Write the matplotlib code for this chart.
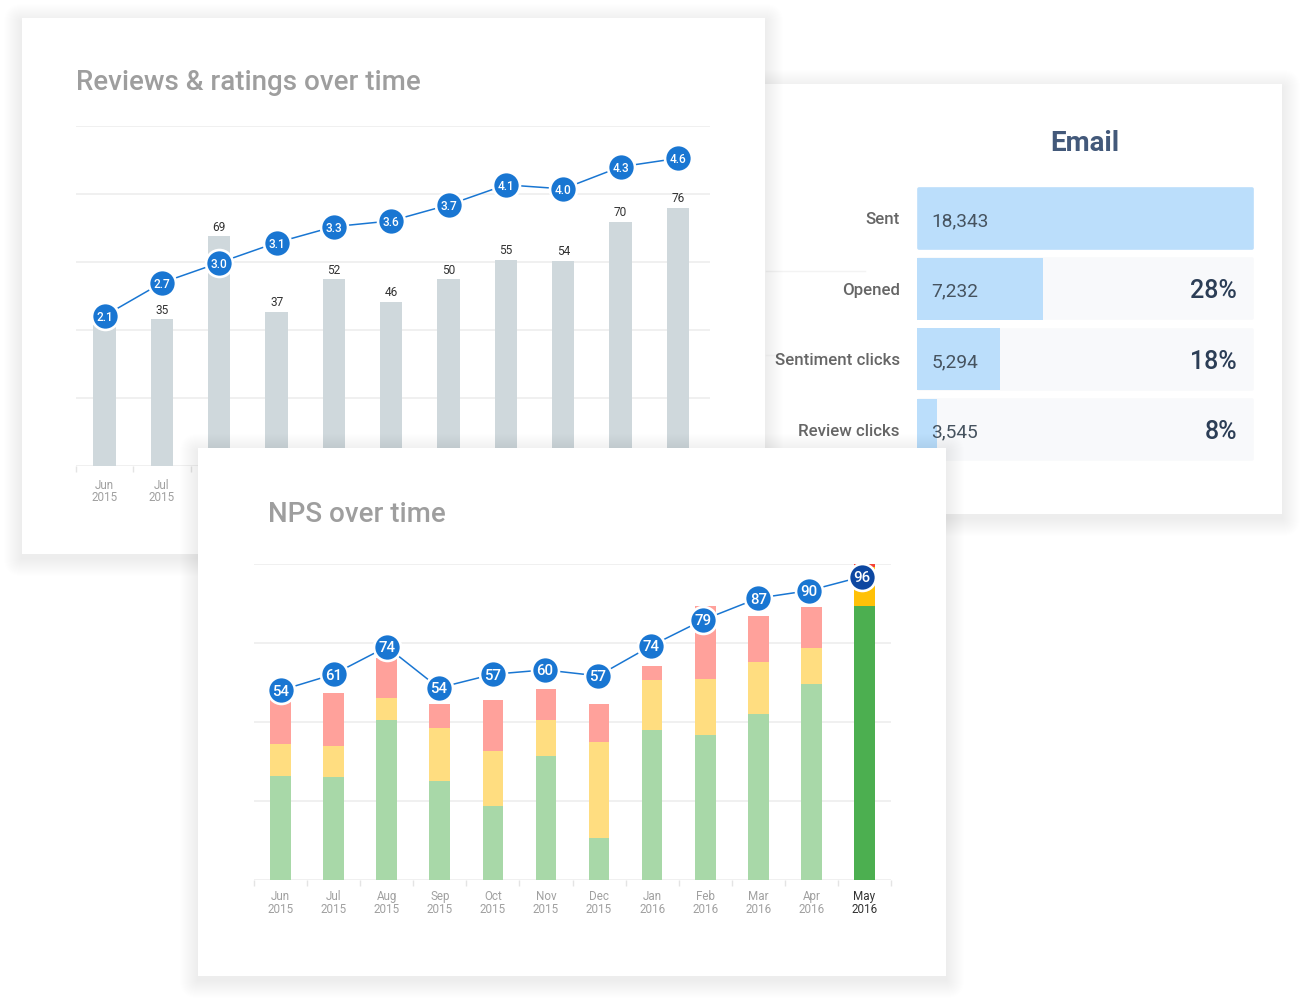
"""Three overlapping dashboard cards: reviews, email funnel, NPS."""

import matplotlib
matplotlib.use("Agg")
import matplotlib.pyplot as plt
from matplotlib.patches import FancyBboxPatch, Rectangle

W, H = 1306, 1002

# ============================================================
# Data
# ============================================================

# only the first two month labels of this chart are visible, the rest sit under the NPS card
review_months = ["Jun\n2015", "Jul\n2015", "", "", "", "", "", "", "", "", ""]
review_bars = [41.5, 43.2, 67.6, 45.4, 55.0, 48.3, 55.0, 60.7, 60.4, 71.9, 75.9]
review_labels = ["", "35", "69", "37", "52", "46", "50", "55", "54", "70", "76"]
rating_line = [44.2, 53.9, 59.8, 65.7, 70.4, 72.1, 76.8, 82.7, 81.5, 88.0, 90.5]
rating_labels = ["2.1", "2.7", "3.0", "3.1", "3.3", "3.6", "3.7", "4.1", "4.0", "4.3", "4.6"]

email_rows = ["Sent", "Opened", "Sentiment clicks", "Review clicks"]
email_fill = [100.0, 37.3, 24.5, 5.8]
email_counts = ["18,343", "7,232", "5,294", "3,545"]
email_rates = ["", "28%", "18%", "8%"]

nps_months = ["Jun\n2015", "Jul\n2015", "Aug\n2015", "Sep\n2015", "Oct\n2015", "Nov\n2015",
              "Dec\n2015", "Jan\n2016", "Feb\n2016", "Mar\n2016", "Apr\n2016", "May\n2016"]
nps_green = [32.9, 32.6, 50.6, 31.3, 23.4, 39.3, 13.4, 47.5, 45.8, 52.6, 62.0, 86.7]
nps_yellow = [10.0, 9.8, 7.0, 16.8, 17.3, 11.3, 30.4, 15.8, 17.7, 16.5, 11.5, 12.3]
nps_red = [14.0, 16.8, 12.7, 7.7, 16.2, 10.0, 11.9, 4.4, 23.2, 14.5, 13.0, 0.95]
nps_line = [60.0, 65.1, 73.8, 60.8, 65.1, 66.5, 64.6, 74.1, 82.3, 89.2, 91.6, 96.0]
nps_labels = ["54", "61", "74", "54", "57", "60", "57", "74", "79", "87", "90", "96"]

# ============================================================
# Helpers
# ============================================================

plt.rcParams["font.family"] = ["Roboto", "DejaVu Sans"]

GRID = "#eeeeee"
BLUE = "#1976d2"
PX = 0.72  # points per pixel at dpi 100

fig = plt.figure(figsize=(W / 100, H / 100), dpi=100, facecolor="white")


def px_axes(x0, y0, x1, y1, zorder):
    """Axes placed by pixel box, y measured from the top of the image."""
    ax = fig.add_axes([x0 / W, 1 - y1 / H, (x1 - x0) / W, (y1 - y0) / H], zorder=zorder)
    ax.patch.set_alpha(0)
    for s in ax.spines.values():
        s.set_visible(False)
    return ax


def card(x0, y0, x1, y1, zorder):
    """White card with a soft shadow, in a full-figure pixel axes."""
    ax = px_axes(0, 0, W, H, zorder)
    ax.set_xlim(0, W)
    ax.set_ylim(H, 0)
    ax.axis("off")
    for i in range(18, 0, -1):
        ax.add_patch(FancyBboxPatch((x0 - i, y0 - i + 4), x1 - x0 + 2 * i, y1 - y0 + 2 * i,
                                    boxstyle="round,pad=0,rounding_size=%d" % i,
                                    fc="black", ec="none", alpha=0.0032, clip_on=False))
    ax.add_patch(Rectangle((x0, y0), x1 - x0, y1 - y0, fc="white", ec="none"))
    return ax


def style_time_axis(ax, labels, pad, highlight=None):
    n = len(labels)
    ax.set_xticks(range(n))
    ax.set_xticklabels(labels, fontsize=8.4, color="#a0a0a0", linespacing=0.98)
    ax.tick_params(axis="x", which="major", length=0, pad=pad)
    ax.set_xticks([i - 0.5 for i in range(n + 1)], minor=True)
    ax.tick_params(axis="x", which="minor", length=4.2, width=1, color="#e4e4e4")
    ax.set_yticks([0, 20, 40, 60, 80, 100])
    ax.tick_params(axis="y", length=0, labelleft=False)
    ax.grid(True, axis="y", color=GRID, lw=1.2)
    ax.set_axisbelow(True)
    if highlight is not None:
        ax.get_xticklabels()[highlight].set_color("#333333")


def bubbles(ax, xs, ys, labels, size, colors=None):
    ax.plot(xs, ys, color=BLUE, lw=1.1, zorder=5, clip_on=False)
    for i, (x, y, t) in enumerate(zip(xs, ys, labels)):
        c = colors[i] if colors else BLUE
        ax.plot([x], [y], "o", ms=19.4, mfc=c, mec="white", mew=1.9, zorder=6, clip_on=False)
        ax.text(x, y, t, color="white", fontsize=size, fontweight="medium",
                ha="center", va="center_baseline", zorder=7)


# ============================================================
# Email card (back layer)
# ============================================================

bg = card(765, 84, 1282, 514, 1)
bg.plot([766, 865], [270.5, 270.5], color="#f3f3f3", lw=1)
bg.plot([766, 840], [355, 355], color="#f8f8f8", lw=1)
bg.text(1085, 140, "Email", fontsize=20, fontweight="bold", color="#43597a",
        ha="center", va="center_baseline")

ax_e = px_axes(917, 183, 1254, 465, 2)
ax_e.set_xlim(0, 100)
ax_e.set_ylim(3.5, -0.5)
ax_e.set_xticks([])
ax_e.set_yticks([])
rows = range(len(email_rows))
# thick round-joined edges give the small corner radius of the tracks
ax_e.barh(rows, [99] * 4, left=0.5, height=0.835, color="#f8f9fb", edgecolor="#f8f9fb",
          linewidth=2.6, joinstyle="round")
ax_e.barh(rows[0], email_fill[0] - 1, left=0.5, height=0.835, color="#bbdefb", edgecolor="#bbdefb",
          linewidth=2.6, joinstyle="round")
ax_e.barh(rows[1:], email_fill[1:], height=0.885, color="#bbdefb")
for i in rows:
    ax_e.annotate(email_rows[i], (0, i), xytext=(-17 * PX, 0), textcoords="offset points",
                  ha="right", va="center_baseline", fontsize=12.2, fontweight="medium", color="#666666")
    ax_e.annotate(email_counts[i], (0, i), xytext=(14.5 * PX, -0.8 * PX), textcoords="offset points",
                  ha="left", va="center_baseline", fontsize=13.8, color="#46535f")
    ax_e.annotate(email_rates[i], (100, i), xytext=(-17 * PX, 0), textcoords="offset points",
                  ha="right", va="center_baseline", fontsize=18, fontweight="medium", color="#2c3e56")

# ============================================================
# Reviews card
# ============================================================

c1 = card(22, 18, 765, 554, 3)
c1.text(76, 79, "Reviews & ratings over time", fontsize=20, fontweight="medium", color="#9e9e9e",
        ha="left", va="center_baseline")

ax_r = px_axes(76, 126, 710, 466, 4)
ax_r.set_xlim(-0.5, 10.56)
ax_r.set_ylim(0, 100)
xs_r = list(range(len(review_months)))
ax_r.bar(xs_r, review_bars, width=0.39, color="#cfd8dc", zorder=3)
style_time_axis(ax_r, review_months, 9)
for x, v, t in zip(xs_r, review_bars, review_labels):
    ax_r.annotate(t, (x, v), xytext=(0, 10.5 * PX), textcoords="offset points", ha="center",
                  va="center_baseline", fontsize=8.6, color="#333333", zorder=4)
bubbles(ax_r, xs_r, rating_line, rating_labels, 8.6)

# ============================================================
# NPS card (front layer)
# ============================================================

c3 = card(198, 448, 946, 976, 5)
c3.text(268, 511, "NPS over time", fontsize=20, fontweight="medium", color="#9e9e9e",
        ha="left", va="center_baseline")

ax_n = px_axes(254, 564, 891, 880, 6)
ax_n.set_xlim(-0.5, 11.5)
ax_n.set_ylim(0, 100)
xs_n = list(range(len(nps_months)))
last = len(nps_months) - 1
green = ["#a8d8a8"] * last + ["#4caf50"]
yellow = ["#ffdd80"] * last + ["#ffc107"]
red = ["#ffa19b"] * last + ["#f44336"]
yellow_base = nps_green
red_base = [a + b for a, b in zip(nps_green, nps_yellow)]
ax_n.bar(xs_n, nps_green, width=0.39, color=green, zorder=3)
ax_n.bar(xs_n, nps_yellow, width=0.39, bottom=yellow_base, color=yellow, zorder=3)
ax_n.bar(xs_n, nps_red, width=0.39, bottom=red_base, color=red, zorder=3)
style_time_axis(ax_n, nps_months, 7, highlight=last)
ax_n.set_yticks([0, 25, 50, 75, 100])
# bubbles drift slightly left of the bar centres towards the right of the original
nudge = [0, 0, 0, -0.02, 0, -0.02, -0.02, -0.02, -0.04, 0, -0.04, -0.045]
bubbles(ax_n, [x + d for x, d in zip(xs_n, nudge)], nps_line, nps_labels, 10.8,
        colors=[BLUE] * last + ["#0d47a1"])

fig.savefig("out.png", dpi=100)
